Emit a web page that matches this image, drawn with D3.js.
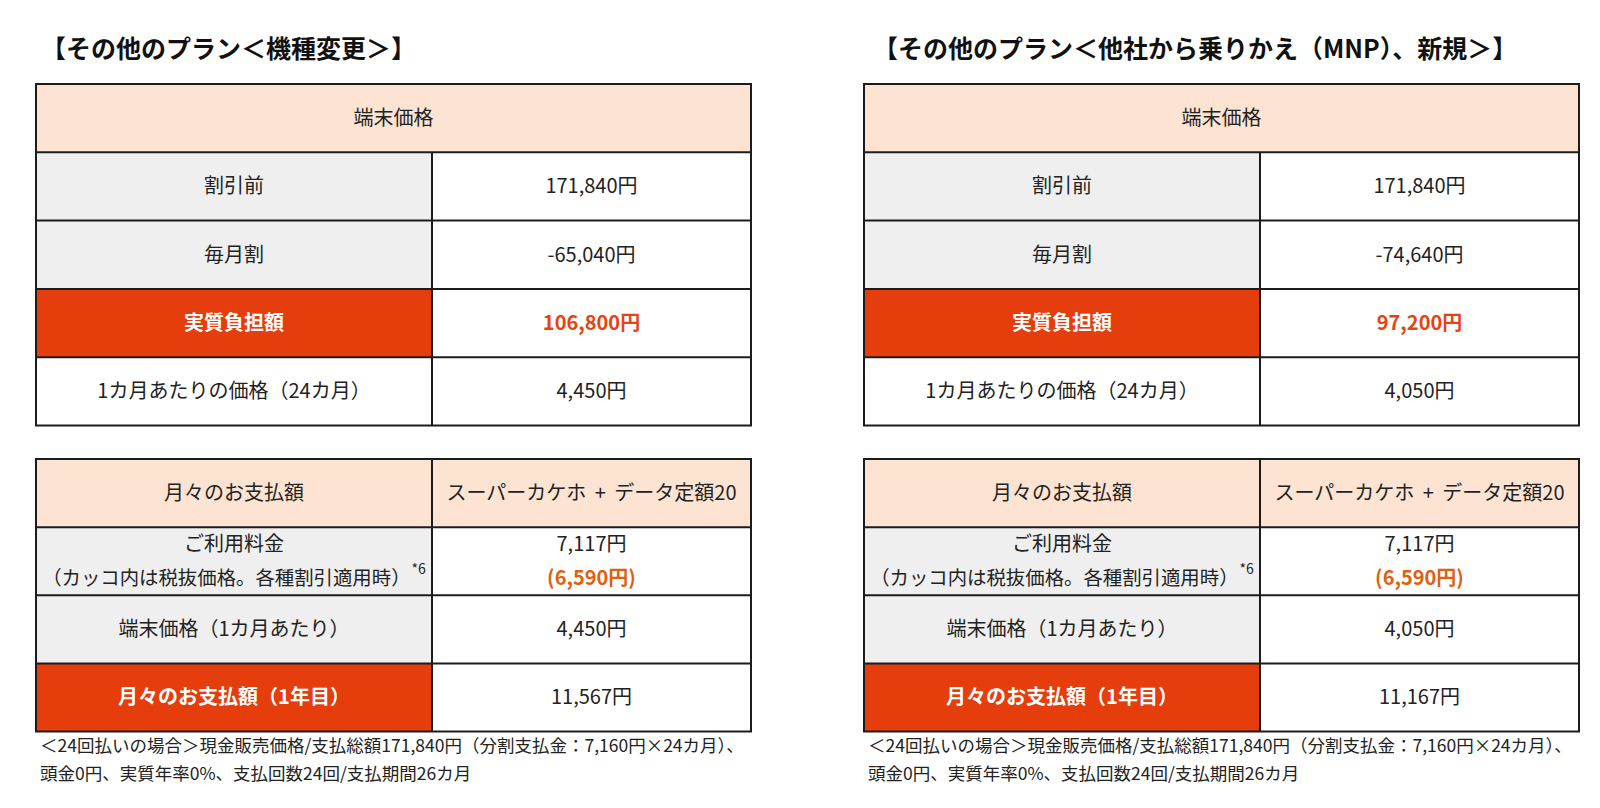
<!DOCTYPE html>
<html>
<head>
<meta charset="utf-8">
<script src="https://cdn.jsdelivr.net/npm/d3@7"></script>
<style>
  body { margin: 0; background: #fff; }
  svg text { font-family: "Noto Sans CJK JP", "Noto Sans", sans-serif; }
</style>
</head>
<body>
<script>
"use strict"

// Table contents
const planTitles = [
  "【その他のプラン＜機種変更＞】",
  "【その他のプラン＜他社から乗りかえ（MNP）、新規＞】",
]

const priceHeader = "端末価格"
const priceLabels = ["割引前", "毎月割", "実質負担額", "1カ月あたりの価格（24カ月）"]
const priceValues = [
  ["171,840円", "-65,040円", "106,800円", "4,450円"],
  ["171,840円", "-74,640円", "97,200円", "4,050円"],
]

const payHeader = ["月々のお支払額", "スーパーカケホ + データ定額20"]
const payLabels = [
  ["ご利用料金", "（カッコ内は税抜価格。各種割引適用時）"],
  ["端末価格（1カ月あたり）"],
  ["月々のお支払額（1年目）"],
]
const payValues = [
  [["7,117円", "(6,590円)"], ["4,450円"], ["11,567円"]],
  [["7,117円", "(6,590円)"], ["4,050円"], ["11,167円"]],
]
const footnoteMark = "*6"

const footnotes = [
  "＜24回払いの場合＞現金販売価格/支払総額171,840円（分割支払金：7,160円×24カ月）、",
  "頭金0円、実質年率0%、支払回数24回/支払期間26カ月",
]

// Which rows are highlighted in red
const priceHighlight = 2
const payHighlight = 2

const colors = {
  header : "#fde4d2",
  label  : "#efefef",
  red    : "#e53d0c",
  redText: "#e8420f",
  orange : "#e0600f",
  line   : "#1c1c1c",
}

const W = 1600, H = 808
const panelX = d3.scaleOrdinal().domain([0, 1]).range([36, 864])
const tableWidth = 715
const labelWidth = 396

const svg = d3.select("body").append("svg").attr("width", W).attr("height", H)

const drawTable = (g, rowsY, rows) => {
  // cells first, lines on top
  rows.forEach((row, i) => {
    const y = rowsY(i)
    const h = rowsY.bandwidth()
    row.forEach(cell => {
      g.append("rect")
        .attr("x", cell.x).attr("y", y)
        .attr("width", cell.w).attr("height", h)
        .attr("fill", cell.fill)
      const n = cell.lines.length
      const lh = 34
      cell.lines.forEach((line, k) => {
        const t = g.append("text")
          .attr("x", cell.x + cell.w / 2)
          .attr("y", y + h / 2 + (k - (n - 1) / 2) * lh)
          .attr("dy", "0.35em")
          .attr("text-anchor", "middle")
          .attr("font-size", line.sup ? 19.4 : 20)
          .attr("fill", line.color || "#222")
          .attr("font-weight", line.bold ? "bold" : "normal")
        t.append("tspan").text(line.text)
          .attr("word-spacing", 4)
        if (line.sup) {
          t.append("tspan").text(line.sup)
            .attr("dx", 1)
            .attr("font-size", 14)
            .attr("dy", "-0.8em")
        }
      })
    })
  })
  const top = rowsY.range()[0], bottom = rowsY.range()[1]
  rows.forEach((row, i) => {
    if (i > 0) {
      g.append("line")
        .attr("x1", 0).attr("x2", tableWidth)
        .attr("y1", rowsY(i)).attr("y2", rowsY(i))
        .attr("stroke", colors.line).attr("stroke-width", 2)
    }
    row.forEach((cell, j) => {
      if (j > 0) {
        g.append("line")
          .attr("x1", cell.x).attr("x2", cell.x)
          .attr("y1", rowsY(i)).attr("y2", rowsY(i) + rowsY.bandwidth())
          .attr("stroke", colors.line).attr("stroke-width", 2)
      }
    })
  })
  g.append("rect")
    .attr("x", 0).attr("y", top)
    .attr("width", tableWidth).attr("height", bottom - top)
    .attr("fill", "none")
    .attr("stroke", colors.line).attr("stroke-width", 2)
}

planTitles.forEach((title, p) => {
  const g = svg.append("g").attr("transform", `translate(${panelX(p)} 0)`)

  g.append("text")
    .attr("x", p === 0 ? 5 : 9).attr("y", 49)
    .attr("dy", "0.35em")
    .attr("font-size", 25)
    .attr("font-weight", "bold")
    .attr("fill", "#111")
    .text(title)

  // price table
  const priceY = d3.scaleBand().domain(d3.range(priceLabels.length + 1)).range([84, 425.5])
  const priceRows = [[{ x: 0, w: tableWidth, fill: colors.header, lines: [{ text: priceHeader }] }]]
  priceLabels.forEach((label, i) => {
    const hi = i === priceHighlight
    const plain = i === priceLabels.length - 1
    priceRows.push([
      { x: 0, w: labelWidth, fill: hi ? colors.red : (plain ? "#fff" : colors.label),
        lines: [{ text: label, bold: hi, color: hi ? "#fff" : "#222" }] },
      { x: labelWidth, w: tableWidth - labelWidth, fill: "#fff",
        lines: [{ text: priceValues[p][i], bold: hi, color: hi ? colors.redText : "#222" }] },
    ])
  })
  drawTable(g, priceY, priceRows)

  // monthly payment table
  const payY = d3.scaleBand().domain(d3.range(payLabels.length + 1)).range([459, 731.5])
  const payRows = [[
    { x: 0, w: labelWidth, fill: colors.header, lines: [{ text: payHeader[0] }] },
    { x: labelWidth, w: tableWidth - labelWidth, fill: colors.header, lines: [{ text: payHeader[1] }] },
  ]]
  payLabels.forEach((labels, i) => {
    const hi = i === payHighlight
    payRows.push([
      { x: 0, w: labelWidth, fill: hi ? colors.red : colors.label,
        lines: labels.map((text, k) => ({
          text, bold: hi, color: hi ? "#fff" : "#222",
          sup: (i === 0 && k === 1) ? footnoteMark : null,
        })) },
      { x: labelWidth, w: tableWidth - labelWidth, fill: "#fff",
        lines: payValues[p][i].map((text, k) => ({
          text, bold: k === 1, color: k === 1 ? colors.orange : "#222",
        })) },
    ])
  })
  drawTable(g, payY, payRows)

  footnotes.forEach((line, i) => {
    g.append("text")
      .attr("x", 4).attr("y", 746 + i * 27.5)
      .attr("dy", "0.35em")
      .attr("font-size", 17.5)
      .attr("fill", "#222")
      .text(line)
  })
})
</script>
</body>
</html>
